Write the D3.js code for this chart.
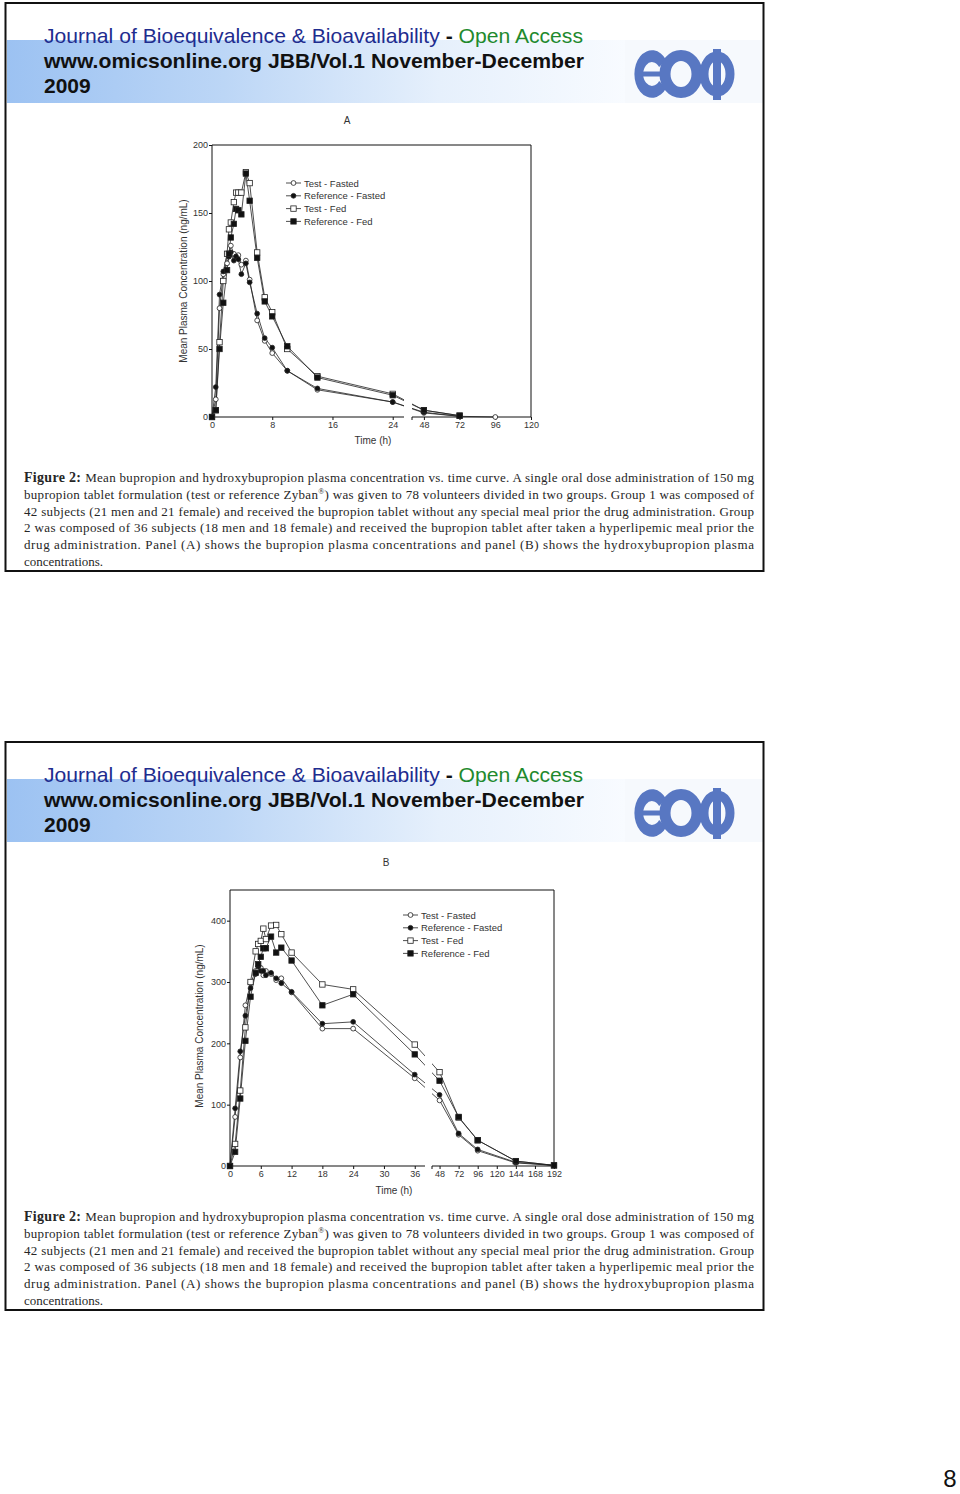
<!DOCTYPE html>
<html>
<head>
<meta charset="utf-8">
<title>Bupropion / hydroxybupropion plasma concentration</title>
<script src="https://d3js.org/d3.v7.min.js"></script>
<style>
body { margin: 0; background: #fff; }
svg { display: block; font-family: Arial, "Liberation Sans", sans-serif; }
</style>
</head>
<body>
<svg id="page" width="960" height="1494"></svg>
<script>
// ---- data ----
// panel A: bupropion (null = no sample shown)
const timesA       = [0, 0.5, 1, 1.5, 2, 2.25, 2.5, 2.9, 3.2, 3.5, 3.9, 4.5, 5, 6, 7, 8, 10, 14, 24, 48, 72, 96];
const testFastedA  = [0, 13, 80, 105, 113, 118, 126, 120, 118, 119, 112, 115, 101, 71, 56, 47, 34, 20, 11, 3, 0.5, 0];
const refFastedA   = [0, 22, 90, 107, 120, 118, 121, 115, 118, 116, 105, 113, 99, 76, 58, 51, 34, 21, 11, 3.5, 0.5, null];
const testFedA     = [0, 5, 55, 100, 120, 138, 143, 158, 165, 165, 165, 180, 172, 121, 88, 77, 50, 30, 17, 5, 1, null];
const refFedA      = [0, 5, 50, 84, 108, 120, 132, 142, 153, 152, 149, 179, 159, 117, 85, 74, 52, 29, 16, 5, 1, null];
const xTicksA = [0, 8, 16, 24, 48, 72, 96, 120];
const yTicksA = [0, 50, 100, 150, 200];

// panel B: hydroxybupropion
const timesB       = [0, 1, 2, 3, 4, 5, 5.5, 6, 6.5, 7, 8, 9, 10, 12, 18, 24, 36, 48, 72, 96, 144, 192];
const testFastedB  = [0, 80, 177, 262, 298, 318, 320, 323, 311, 318, 313, 303, 306, 283, 224, 224, 143, 107, 51, 25, 5, 1];
const refFastedB   = [0, 94, 187, 245, 290, 313, 325, 318, 318, 311, 315, 306, 298, 284, 232, 235, 149, 116, 53, 27, 6, 1];
const testFedB     = [0, 36, 123, 226, 300, 350, 362, 367, 387, 370, 392, 393, 378, 348, 296, 288, 198, 153, 79, 42, 8, 1];
const refFedB      = [0, 23, 110, 204, 276, 315, 329, 341, 355, 355, 374, 348, 356, 335, 262, 280, 182, 139, 80, 42, 8, 1];
const xTicksB = [0, 6, 12, 18, 24, 30, 36, 48, 72, 96, 120, 144, 168, 192];
const yTicksB = [0, 100, 200, 300, 400];

const seriesNames = ["Test - Fasted", "Reference - Fasted", "Test - Fed", "Reference - Fed"];
const markerKinds = ["openCircle", "dot", "openSquare", "square"];

const captionLines = [
  "Mean bupropion and hydroxybupropion plasma concentration vs. time curve. A single oral dose administration of 150 mg",
  "bupropion tablet formulation (test or reference Zyban|) was given to 78 volunteers divided in two groups. Group 1 was composed of",
  "42 subjects (21 men and 21 female) and received the bupropion tablet without any special meal prior the drug administration. Group",
  "2 was composed of 36 subjects (18 men and 18 female) and received the bupropion tablet after taken a hyperlipemic meal prior the",
  "drug administration. Panel (A) shows the bupropion plasma concentrations and panel (B) shows the hydroxybupropion plasma",
  "concentrations."
];

const svg = d3.select("#page");
svg.append("rect").attr("width", 960).attr("height", 1494).attr("fill", "#fff");

const defs = svg.append("defs");
const grad = defs.append("linearGradient").attr("id", "band").attr("x1", "0").attr("x2", "1");
grad.append("stop").attr("offset", "0%").attr("stop-color", "#9cc2f2");
grad.append("stop").attr("offset", "35%").attr("stop-color", "#bcd6f6");
grad.append("stop").attr("offset", "70%").attr("stop-color", "#e6f0fc");
grad.append("stop").attr("offset", "100%").attr("stop-color", "#f8fbff");

// panel settings (built from the arrays above)
const panels = [
  {
    id: "A", offset: 0, times: timesA,
    series: [testFastedA, refFastedA, testFedA, refFedA],
    xDomain: [0, 25.5, 40, 120], xRange: [212, 404, 412, 531],
    yMax: 200, top: 145, bottom: 417,
    xTicks: xTicksA, yTicks: yTicksA,
    title: [347, 124], xTitle: [373, 444], yTitle: [186.5, 281],
    legend: [286, 183]
  },
  {
    id: "B", offset: 739, times: timesB,
    series: [testFastedB, refFastedB, testFedB, refFedB],
    xDomain: [0, 38, 38.5, 192], xRange: [230, 425, 432, 554],
    yMax: 450, top: 151, bottom: 427,
    xTicks: xTicksB, yTicks: yTicksB,
    title: [386, 127], xTitle: [394, 455], yTitle: [202.5, 287],
    legend: [403, 176]
  }
];

function drawMarker(g, kind, cx, cy) {
  if (kind === "openCircle" || kind === "dot") {
    g.append("circle").attr("cx", cx).attr("cy", cy).attr("r", 2.4)
      .attr("fill", kind === "dot" ? "#111" : "#fff").attr("stroke", "#222").attr("stroke-width", 0.8);
  } else {
    g.append("rect").attr("x", cx - 2.7).attr("y", cy - 2.7).attr("width", 5.4).attr("height", 5.4)
      .attr("fill", kind === "square" ? "#111" : "#fff").attr("stroke", "#222").attr("stroke-width", 0.8);
  }
}

function drawHeader(g) {
  g.append("rect").attr("x", 7).attr("y", 40).attr("width", 618).attr("height", 63).attr("fill", "url(#band)");
  g.append("rect").attr("x", 625).attr("y", 40).attr("width", 138).attr("height", 63).attr("fill", "#f6f9fd");

  const t1 = g.append("text").attr("x", 44).attr("y", 43).attr("font-size", 21)
    .attr("textLength", 539).attr("lengthAdjust", "spacingAndGlyphs");
  t1.append("tspan").attr("fill", "#1f2d8f").text("Journal of Bioequivalence & Bioavailability ");
  t1.append("tspan").attr("fill", "#111").attr("font-weight", "bold").text("- ");
  t1.append("tspan").attr("fill", "#1f8a2e").text("Open Access");

  g.append("text").attr("x", 44).attr("y", 68).attr("font-size", 21).attr("font-weight", "bold")
    .attr("textLength", 540).attr("lengthAdjust", "spacingAndGlyphs")
    .attr("fill", "#111").text("www.omicsonline.org JBB/Vol.1 November-December");
  g.append("text").attr("x", 44).attr("y", 93).attr("font-size", 21).attr("font-weight", "bold")
    .attr("fill", "#111").text("2009");

  // logo
  const c = "#5877c2";
  const logo = g.append("g").attr("fill", "none").attr("stroke", c);
  const arc = d3.arc().innerRadius(11).outerRadius(22).startAngle(Math.PI * 0.7).endAngle(Math.PI * 2.3);
  logo.append("path").attr("d", arc()).attr("transform", "translate(652,74) scale(0.8,1.08)")
    .attr("fill", c).attr("stroke", "none");
  logo.append("rect").attr("x", 641).attr("y", 71.5).attr("width", 22).attr("height", 5).attr("fill", c).attr("stroke", "none");
  logo.append("ellipse").attr("cx", 681).attr("cy", 74).attr("rx", 16).attr("ry", 18.5).attr("stroke-width", 11);
  logo.append("ellipse").attr("cx", 717).attr("cy", 74).attr("rx", 13).attr("ry", 18).attr("stroke-width", 9);
  logo.append("rect").attr("x", 713).attr("y", 49).attr("width", 8).attr("height", 51).attr("fill", c).attr("stroke", "none");
}

function drawCaption(g) {
  captionLines.forEach((line, i) => {
    const t = g.append("text").attr("x", 24).attr("y", 482 + i * 16.8)
      .attr("font-family", "'Liberation Serif', 'DejaVu Serif', serif").attr("font-size", 13).attr("fill", "#262626");
    if (i === 0) {
      t.append("tspan").attr("font-weight", "bold").attr("font-size", 14).text("Figure 2: ");
    }
    const parts = line.split("|");
    t.append("tspan").text(parts[0]);
    if (parts.length > 1) {
      t.append("tspan").attr("font-size", 8).attr("dy", -5).text("®");
      t.append("tspan").attr("dy", 5).text(parts[1]);
    }
    if (i < captionLines.length - 1) {
      t.attr("textLength", 730).attr("lengthAdjust", "spacing");
    }
  });
}

function drawPanel(g, p) {
  const x = d3.scaleLinear().domain(p.xDomain).range(p.xRange);
  const y = d3.scaleLinear().domain([0, p.yMax]).range([p.bottom, p.top]);
  const left = p.xRange[0], right = p.xRange[3];

  g.append("text").attr("x", p.title[0]).attr("y", p.title[1]).attr("text-anchor", "middle")
    .attr("font-size", 10).attr("fill", "#333").text(p.id);

  // clip the connecting lines on both sides of the axis break
  [[left - 2, p.xRange[1]], [p.xRange[2], right + 2]].forEach((r, k) => {
    defs.append("clipPath").attr("id", `clip${p.id}${k}`)
      .append("rect").attr("x", r[0]).attr("y", p.top - 10).attr("width", r[1] - r[0]).attr("height", p.bottom - p.top + 20);
  });

  const line = d3.line().defined(d => d[1] != null).x(d => x(d[0])).y(d => y(d[1]));
  [0, 1].forEach(k => {
    const lg = g.append("g").attr("clip-path", `url(#clip${p.id}${k})`);
    p.series.forEach(vals => {
      lg.append("path").attr("d", line(p.times.map((t, j) => [t, vals[j]])))
        .attr("fill", "none").attr("stroke", "#222").attr("stroke-width", 0.8);
    });
  });

  // frame and axes
  const frame = g.append("g").attr("stroke", "#111").attr("stroke-width", 1).attr("fill", "none");
  frame.append("line").attr("x1", left).attr("x2", left).attr("y1", p.top).attr("y2", p.bottom);
  frame.append("line").attr("x1", left).attr("x2", right).attr("y1", p.top).attr("y2", p.top);
  frame.append("line").attr("x1", right).attr("x2", right).attr("y1", p.top).attr("y2", p.bottom);
  frame.append("line").attr("x1", left).attr("x2", p.xRange[1]).attr("y1", p.bottom).attr("y2", p.bottom);
  frame.append("line").attr("x1", p.xRange[2]).attr("x2", right).attr("y1", p.bottom).attr("y2", p.bottom);
  frame.append("line").attr("x1", p.xRange[2]).attr("x2", p.xRange[2]).attr("y1", p.bottom).attr("y2", p.bottom + 3);

  const xa = g.append("g").attr("transform", `translate(0,${p.bottom})`)
    .call(d3.axisBottom(x).tickValues(p.xTicks).tickSize(3).tickPadding(2).tickFormat(d3.format("d")));
  const ya = g.append("g").attr("transform", `translate(${left},0)`)
    .call(d3.axisLeft(y).tickValues(p.yTicks).tickSize(3).tickPadding(1).tickFormat(d3.format("d")));
  [xa, ya].forEach(a => {
    a.select(".domain").remove();
    a.selectAll("line").attr("stroke", "#111");
    a.selectAll("text").attr("font-size", 9).attr("fill", "#333").attr("font-family", "Arial, 'Liberation Sans', sans-serif");
  });

  g.append("text").attr("x", p.xTitle[0]).attr("y", p.xTitle[1]).attr("text-anchor", "middle")
    .attr("font-size", 10).attr("fill", "#333").text("Time (h)");
  g.append("text").attr("transform", `translate(${p.yTitle[0]},${p.yTitle[1]}) rotate(-90)`)
    .attr("text-anchor", "middle").attr("font-size", 10).attr("fill", "#333")
    .text("Mean Plasma Concentration (ng/mL)");

  // markers
  const mg = g.append("g");
  p.series.forEach((vals, s) => {
    p.times.forEach((t, j) => {
      if (vals[j] != null) drawMarker(mg, markerKinds[s], x(t), y(vals[j]));
    });
  });

  // legend
  const lgd = g.append("g");
  seriesNames.forEach((name, s) => {
    const ly = p.legend[1] + s * 12.8;
    lgd.append("line").attr("x1", p.legend[0]).attr("x2", p.legend[0] + 15).attr("y1", ly).attr("y2", ly)
      .attr("stroke", "#222").attr("stroke-width", 0.8);
    drawMarker(lgd, markerKinds[s], p.legend[0] + 7.5, ly);
    lgd.append("text").attr("x", p.legend[0] + 18).attr("y", ly + 3.5).attr("font-size", 9.5)
      .attr("fill", "#333").text(name);
  });
}

panels.forEach(p => {
  const slide = svg.append("g").attr("transform", `translate(0,${p.offset})`);
  drawHeader(slide);
  drawPanel(slide, p);
  drawCaption(slide);
  slide.append("rect").attr("x", 5.5).attr("y", 3).attr("width", 758).attr("height", 568)
    .attr("fill", "none").attr("stroke", "#111").attr("stroke-width", 2);
});

svg.append("text").attr("x", 950).attr("y", 1487).attr("text-anchor", "middle")
  .attr("font-size", 24).attr("fill", "#111").text("8");
</script>
</body>
</html>
